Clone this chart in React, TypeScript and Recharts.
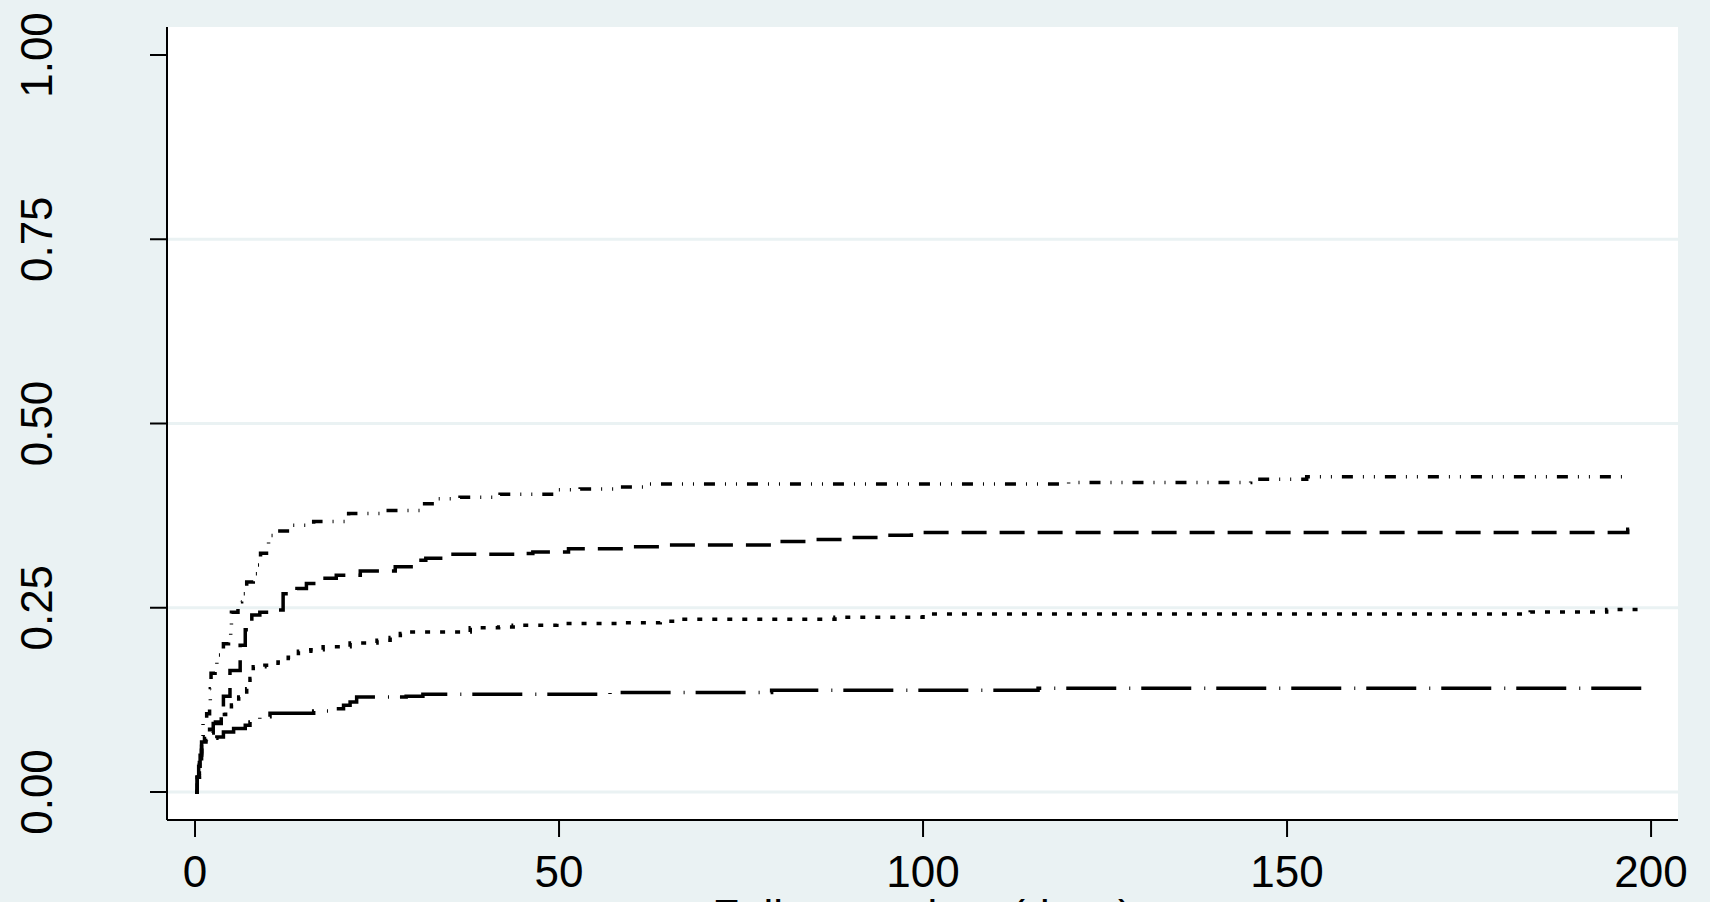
import { CartesianGrid, Line, LineChart, ReferenceLine, XAxis, YAxis } from "recharts"

document.body.style.margin = "0"
document.body.style.background = "#eaf2f3"

const FONT = "'Liberation Sans', Arial, sans-serif"

const xTicks = [0, 50, 100, 150, 200]
const yTicks = [0, 0.25, 0.5, 0.75, 1]
const gridValues = [0, 0.25, 0.5, 0.75]
const xTitle = "Follow-up time (days)"

// top curve (long dash, two dots)
const timesA = [0, 0.3, 0.6, 0.9, 1.1, 1.6, 2.0, 2.1, 2.2, 2.75, 3.0, 3.9, 4.6, 4.9, 5.0, 5.9, 6.4, 7.1, 8.0, 8.5, 9.0, 10.1, 11.2, 13.0, 16.3, 21.1, 26.3, 31.1, 33.2, 36.4, 41.9, 49.7, 52.9, 58.4, 62.0, 120, 145, 152.7, 197.1]
const riskA = [0, 0.02, 0.045, 0.07, 0.093, 0.106, 0.124, 0.14, 0.161, 0.172, 0.186, 0.201, 0.21, 0.226, 0.244, 0.258, 0.269, 0.285, 0.296, 0.308, 0.324, 0.348, 0.354, 0.362, 0.367, 0.378, 0.382, 0.391, 0.398, 0.4, 0.404, 0.41, 0.411, 0.414, 0.418, 0.42, 0.4245, 0.4276, 0.4276]

// second curve (long dash)
const timesB = [0, 0.3, 0.6, 0.9, 1.5, 2.5, 3.6, 3.9, 4.8, 6.2, 6.9, 7.8, 8.9, 11.5, 12.1, 14.0, 15.3, 17.6, 19.4, 22.7, 27.5, 30.4, 31.7, 34.5, 45.3, 46.4, 51.3, 60.0, 64.3, 79.4, 84.7, 89.1, 94.3, 98.4, 196.8, 198.1]
const riskB = [0, 0.02, 0.045, 0.068, 0.08, 0.093, 0.115, 0.13, 0.165, 0.199, 0.22, 0.24, 0.244, 0.247, 0.269, 0.276, 0.283, 0.29, 0.294, 0.3, 0.3055, 0.3145, 0.317, 0.3226, 0.3235, 0.3258, 0.33, 0.3326, 0.3353, 0.34, 0.3426, 0.3453, 0.3484, 0.352, 0.3566, 0.3566]

// third curve (dotted)
const timesC = [0, 0.3, 0.6, 0.9, 1.3, 2.0, 2.8, 3.5, 4.2, 5.0, 6.0, 7.1, 7.55, 8.0, 9.6, 11.4, 12.8, 14.2, 15.9, 17.6, 21.3, 25.0, 26.8, 28.2, 29.5, 37.8, 41.7, 43.7, 49.7, 58, 63.9, 66.6, 87.9, 100, 183.4, 193.9, 199.2]
const riskC = [0, 0.02, 0.04, 0.06, 0.075, 0.085, 0.095, 0.105, 0.11, 0.118, 0.129, 0.14, 0.154, 0.17, 0.172, 0.1765, 0.183, 0.191, 0.193, 0.197, 0.202, 0.206, 0.2096, 0.215, 0.217, 0.223, 0.224, 0.2263, 0.2286, 0.2295, 0.2317, 0.2344, 0.2371, 0.2416, 0.2443, 0.2476, 0.2476]

// bottom curve (long dash, dot)
const timesD = [0, 0.3, 0.5, 0.7, 0.9, 1.6, 2.5, 3.0, 3.9, 5.3, 6.9, 7.55, 8.9, 10.3, 16.3, 18.3, 20.4, 21.3, 22.2, 29.0, 31.3, 57.0, 79.2, 115.8, 199.2]
const riskD = [0, 0.02, 0.035, 0.05, 0.065, 0.07, 0.073, 0.0747, 0.0815, 0.086, 0.0905, 0.095, 0.102, 0.107, 0.11, 0.113, 0.1177, 0.122, 0.129, 0.13, 0.1326, 0.1349, 0.138, 0.1408, 0.1408]

const toRows = (times: number[], risks: number[]) =>
  times.map((time, i) => ({ time, risk: risks[i] }))

const series = [
  { name: "a", rows: toRows(timesA, riskA), dash: "11 10 1 10 1 10" },
  { name: "b", rows: toRows(timesB, riskB), dash: "25 13" },
  { name: "c", rows: toRows(timesC, riskC), dash: "5 10" },
  { name: "d", rows: toRows(timesD, riskD), dash: "50 13 1 11" },
]

function YTick({ x, y, payload }: any) {
  return (
    <text
      x={0}
      y={0}
      transform={`translate(${x - 98}, ${y}) rotate(-90)`}
      textAnchor="middle"
      fontSize={44}
      fontFamily={FONT}
      fill="#000"
    >
      {Number(payload.value).toFixed(2)}
    </text>
  )
}

function XTick({ x, y, payload }: any) {
  return (
    <text x={x} y={y + 50} textAnchor="middle" fontSize={44} fontFamily={FONT} fill="#000">
      {payload.value}
    </text>
  )
}

function XTitle({ viewBox }: any) {
  return (
    <text
      x={viewBox.x + viewBox.width / 2}
      y={viewBox.y + viewBox.height + 29}
      textAnchor="middle"
      fontSize={44}
      fontFamily={FONT}
      fill="#000"
    >
      {xTitle}
    </text>
  )
}

export default function App() {
  return (
    <div style={{ width: 1710, height: 902, overflow: "hidden", background: "#eaf2f3" }}>
      <LineChart width={1710} height={902} margin={{ top: 27, right: 32, left: 0, bottom: 0 }}>
        <CartesianGrid horizontal={false} vertical={false} fill="#fff" fillOpacity={1} stroke="none" />
        <XAxis
          type="number"
          dataKey="time"
          domain={[-3.85, 203.7]}
          ticks={xTicks}
          allowDataOverflow
          height={82}
          tickSize={17}
          tickMargin={0}
          axisLine={{ stroke: "#000", strokeWidth: 2 }}
          tickLine={{ stroke: "#000", strokeWidth: 2 }}
          tick={<XTick />}
          label={<XTitle />}
        />
        <YAxis
          type="number"
          dataKey="risk"
          domain={[-0.038, 1.038]}
          ticks={yTicks}
          allowDataOverflow
          width={167}
          tickSize={17}
          tickMargin={0}
          axisLine={{ stroke: "#000", strokeWidth: 2 }}
          tickLine={{ stroke: "#000", strokeWidth: 2 }}
          tick={<YTick />}
        />
        {gridValues.map((v) => (
          <ReferenceLine key={v} y={v} stroke="#eaf2f3" strokeWidth={3} />
        ))}
        {series.map((s) => (
          <Line
            key={s.name}
            data={s.rows}
            dataKey="risk"
            type="stepAfter"
            stroke="#000"
            strokeWidth={3.5}
            strokeDasharray={s.dash}
            dot={false}
            activeDot={false}
            isAnimationActive={false}
          />
        ))}
      </LineChart>
    </div>
  )
}
